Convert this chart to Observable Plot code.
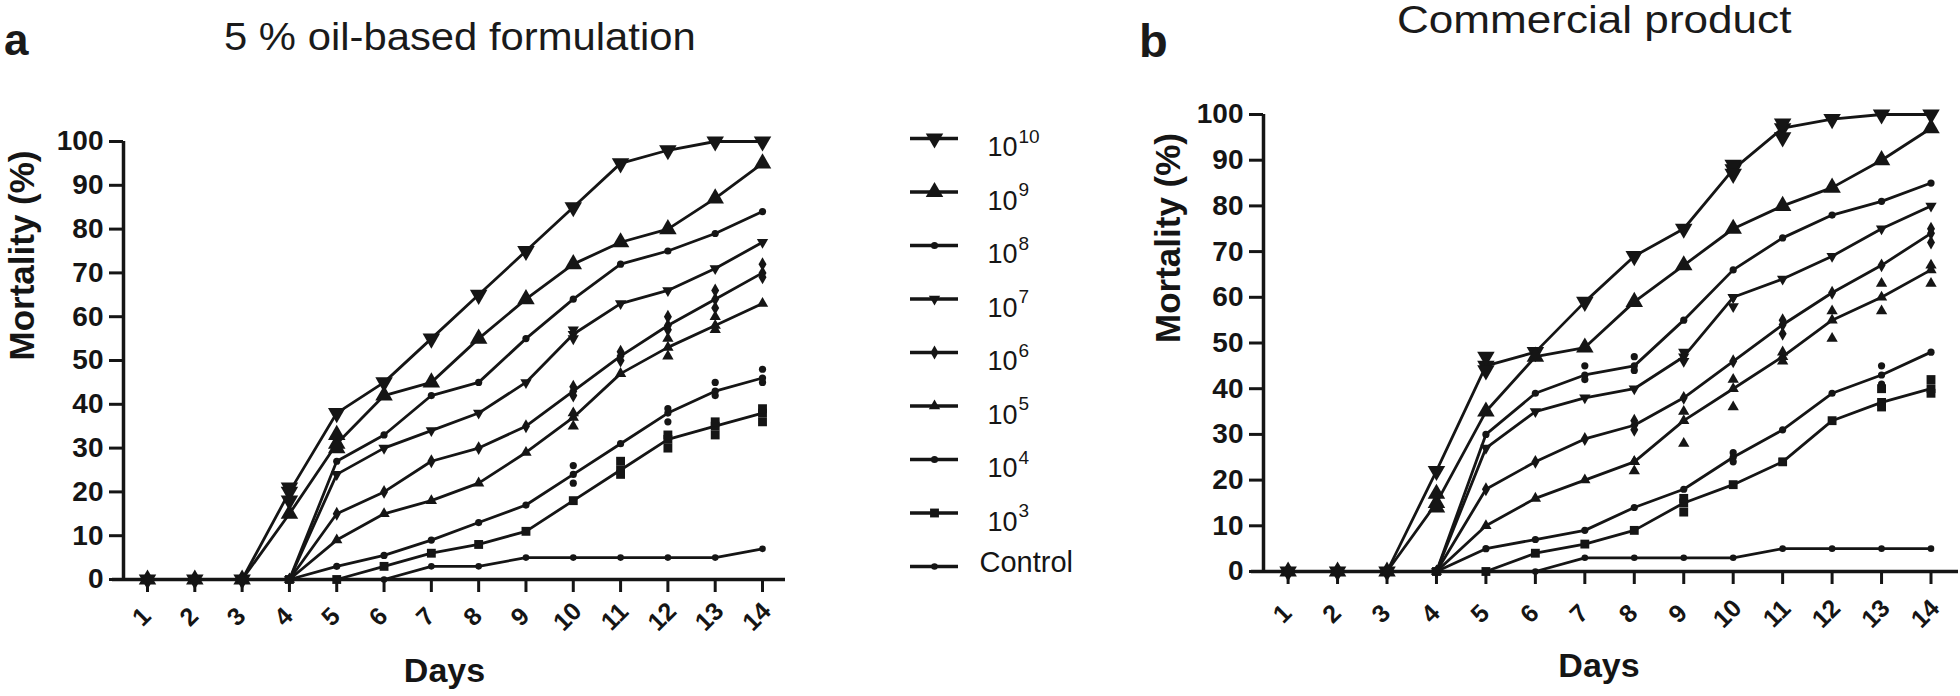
<!DOCTYPE html>
<html><head><meta charset="utf-8">
<script src="https://cdn.jsdelivr.net/npm/d3@7"></script>
<script src="https://cdn.jsdelivr.net/npm/@observablehq/plot@0.6"></script>
<style>
body{margin:0;background:#fff;width:1960px;height:696px;overflow:hidden;position:relative;font-family:"Liberation Sans",Arial,sans-serif;color:#1a1a1a}
.box{position:absolute;top:0}
.ttl{position:absolute;font-size:38px;line-height:38px;white-space:nowrap;transform-origin:0 0;font-weight:normal}
.pl{position:absolute;font-weight:bold;white-space:nowrap}
</style></head><body>
<div class="pl" style="left:4px;top:17.8px;font-size:44px;line-height:44px">a</div>
<div class="pl" style="left:1139px;top:17.2px;font-size:47px;line-height:47px">b</div>
<div class="ttl" id="t1" style="left:224px;top:17.8px;transform:scaleX(1.10)"></div>
<div class="ttl" id="t2" style="left:1397px;top:0.8px;transform:scaleX(1.16)"></div>
<div class="box" id="pa" style="left:0;width:800px"></div>
<div class="box" id="leg" style="left:880px;width:240px"></div>
<div class="box" id="pb" style="left:1100px;width:860px"></div>
<script>
// ---------- data ----------
const days = [1,2,3,4,5,6,7,8,9,10,11,12,13,14];
const yTicks = [0,10,20,30,40,50,60,70,80,90,100];
const seriesNames = ["1e10","1e9","1e8","1e7","1e6","1e5","1e4","1e3","Control"];
const legendBase = ["10","10","10","10","10","10","10","10","Control"];
const legendExp  = ["10","9","8","7","6","5","4","3",""];
const titleA = "5 % oil-based formulation";
const titleB = "Commercial product";
const yLabel = "Mortality (%)";
const xLabel = "Days";

// panel a: 5 % oil-based formulation (mean per day)
const oil_e10 = [0,0,0,20,38,45,55,65,75,85,95,98,100,100];
const oil_e9  = [0,0,0,15,31,42,45,55,64,72,77,80,87,95];
const oil_e8  = [0,0,0,0,27,33,42,45,55,64,72,75,79,84];
const oil_e7  = [0,0,0,0,24,30,34,38,45,56,63,66,71,77];
const oil_e6  = [0,0,0,0,15,20,27,30,35,43,51,58,64,70];
const oil_e5  = [0,0,0,0,9,15,18,22,29,37,47,53,58,63];
const oil_e4  = [0,0,0,0,3,5.5,9,13,17,24,31,38,43,46];
const oil_e3  = [0,0,0,0,0,3,6,8,11,18,25,32,35,38];
const oil_ctl = [0,0,0,0,0,0,3,3,5,5,5,5,5,7];
// panel a: replicate points [series index, day, value]
const oilReplicates = [
  [0,4,21],[0,4,18],[1,5,33],[1,5,30],[3,10,57],[3,10,55],
  [4,10,44],[4,10,42],[4,11,52],[4,11,50],[4,12,60],[4,12,57],[4,13,66],[4,13,62],[4,14,72],[4,14,69],
  [5,10,38],[5,10,35],[5,12,55],[5,12,51],[5,13,60],[5,13,57],
  [6,10,26],[6,10,22],[6,12,39],[6,12,36],[6,13,45],[6,13,42],[6,14,48],[6,14,45],
  [7,11,27],[7,11,24],[7,12,33],[7,12,30],[7,13,36],[7,13,33],[7,14,39],[7,14,36]
];

// panel b: commercial product (mean per day)
const com_e10 = [0,0,0,22,45,48,59,69,75,88,97,99,100,100];
const com_e9  = [0,0,0,15,35,47,49,59,67,75,80,84,90,97];
const com_e8  = [0,0,0,0,30,39,43,45,55,66,73,78,81,85];
const com_e7  = [0,0,0,0,27,35,38,40,47,60,64,69,75,80];
const com_e6  = [0,0,0,0,18,24,29,32,38,46,54,61,67,74];
const com_e5  = [0,0,0,0,10,16,20,24,33,40,47,55,60,66];
const com_e4  = [0,0,0,0,5,7,9,14,18,25,31,39,43,48];
const com_e3  = [0,0,0,0,0,4,6,9,15,19,24,33,37,40];
const com_ctl = [0,0,0,0,0,0,3,3,3,3,5,5,5,5];
// panel b: replicate points [series index, day, value]
const comReplicates = [
  [0,5,47],[0,5,44],[0,10,89],[0,10,87],[0,11,98],[0,11,95],[1,4,17],[1,4,14],
  [2,7,45],[2,7,42],[2,8,47],[2,8,44],[3,9,48],[3,9,46],[3,10,60],[3,10,58],
  [4,8,33],[4,8,31],[4,11,55],[4,11,52],[4,14,75],[4,14,72],
  [5,8,24],[5,8,22],[5,9,35],[5,9,28],[5,10,42],[5,10,36],[5,11,48],[5,11,46],[5,12,57],[5,12,51],[5,13,63],[5,13,57],[5,14,67],[5,14,63],
  [6,10,26],[6,10,24],[6,13,45],[6,13,41],
  [7,9,16],[7,9,13],[7,13,40],[7,13,36],[7,14,42],[7,14,39]
];

// ---------- build ----------
const ink = "#151515";
const oilSeries = [oil_e10,oil_e9,oil_e8,oil_e7,oil_e6,oil_e5,oil_e4,oil_e3,oil_ctl];
const comSeries = [com_e10,com_e9,com_e8,com_e7,com_e6,com_e5,com_e4,com_e3,com_ctl];
function toRows(arr){
  return arr.flatMap((vals, s) => vals.map((v, k) => ({series: seriesNames[s], idx: s, day: days[k], value: v})));
}
function repRows(reps){
  return reps.map(([s, day, value]) => ({series: seriesNames[s], idx: s, day, value}));
}
const sqrt3 = Math.sqrt(3);
const triangleDown = {draw(ctx, size){
  const y = -Math.sqrt(size / (sqrt3 * 3));
  ctx.moveTo(0, -y * 2); ctx.lineTo(-sqrt3 * y, y); ctx.lineTo(sqrt3 * y, y); ctx.closePath();
}};
const markerStyle = [
  {symbol: triangleDown, r: 6.5},
  {symbol: "triangle", r: 6.5},
  {symbol: "circle", r: 3.6},
  {symbol: triangleDown, r: 4.2},
  {symbol: "diamond", r: 4.2},
  {symbol: "triangle", r: 4.2},
  {symbol: "circle", r: 3.6},
  {symbol: "square", r: 5},
  {symbol: "circle", r: 3.3}
];
const fontFamily = "'Liberation Sans', Arial, sans-serif";

function panel(data, reps, c){
  const pts = data.concat(reps);
  return Plot.plot({
    width: c.width, height: 696,
    marginLeft: c.ml, marginRight: c.mr, marginTop: c.mt, marginBottom: c.mb,
    x: {domain: c.xDomain},
    y: {domain: [0, 100]},
    style: {fontFamily, color: ink, background: "transparent", overflow: "visible"},
    marks: [
      Plot.ruleY([0], {x1: c.baseStart, x2: c.xDomain[1], stroke: ink, strokeWidth: 3.5}),
      Plot.ruleX([c.xDomain[0]], {y1: 0, y2: 100, stroke: ink, strokeWidth: 3.5}),
      Plot.axisY({ticks: yTicks, tickSize: 14, tickPadding: 6, strokeWidth: 3, fontSize: c.yFont, fontWeight: "bold", label: null}),
      Plot.axisX({ticks: days, tickSize: 13, strokeWidth: 3, fill: "none", label: null}),
      Plot.text(days, {x: d => d, text: d => String(d), frameAnchor: "bottom", dy: c.tickDy, rotate: -45, fontSize: 25, fontWeight: "bold", fill: ink}),
      Plot.text([yLabel], {text: d => d, frameAnchor: "left", dx: c.yLabDx, rotate: -90, fontSize: 35, fontWeight: "bold", fill: ink}),
      Plot.text([xLabel], {text: d => d, frameAnchor: "bottom", dx: c.xLabDx, dy: c.xLabDy, fontSize: 34, fontWeight: "bold", fill: ink}),
      Plot.line(data, {x: "day", y: "value", z: "series", stroke: ink, strokeWidth: 2.8}),
      ...markerStyle.map((m, s) => Plot.dot(pts.filter(d => d.idx === s), {x: "day", y: "value", symbol: m.symbol, r: m.r, fill: ink, stroke: "none"}))
    ]
  });
}

document.getElementById("t1").textContent = titleA;
document.getElementById("t2").textContent = titleB;

document.getElementById("pa").append(panel(toRows(oilSeries), repRows(oilReplicates), {
  width: 800, ml: 123, mr: 15, mt: 141, mb: 117,
  xDomain: [0.4926, 14.486], baseStart: 0.26,
  yFont: 28, tickDy: 43, yLabDx: -101, xLabDx: -10, xLabDy: 102
}));

document.getElementById("pb").append(panel(toRows(comSeries), repRows(comReplicates), {
  width: 860, ml: 163, mr: 2, mt: 114, mb: 125,
  xDomain: [0.5025, 14.556], baseStart: 0.26,
  yFont: 28, tickDy: 48, yLabDx: -95, xLabDx: -12, xLabDy: 105
}));

const idx = seriesNames.map((_, i) => i);
const idxExp = idx.filter(i => legendExp[i] !== "");
const idxPlain = idx.filter(i => legendExp[i] === "");
document.getElementById("leg").append(Plot.plot({
  width: 240, height: 696,
  marginLeft: 30, marginRight: 162, marginTop: 138, marginBottom: 130,
  x: {domain: [0, 1], axis: null},
  y: {domain: [0, 8], reverse: true, axis: null},
  style: {fontFamily, color: ink, background: "transparent", overflow: "visible"},
  marks: [
    Plot.ruleY(idx, {y: d => d, x1: 0, x2: 1, stroke: ink, strokeWidth: 3.5}),
    ...markerStyle.map((m, s) => Plot.dot([s], {x: () => 0.5, y: d => d, symbol: m.symbol, r: m.r, fill: ink, stroke: "none"})),
    Plot.text(idxExp, {x: () => 1, y: d => d, text: d => legendBase[d], dx: 29, dy: 9, textAnchor: "start", fontSize: 27, fill: ink}),
    Plot.text(idxExp, {x: () => 1, y: d => d, text: d => legendExp[d], dx: 60, dy: -2, textAnchor: "start", fontSize: 19, fill: ink}),
    Plot.text(idxPlain, {x: () => 1, y: d => d, text: d => legendBase[d], dx: 21, dy: -4, textAnchor: "start", fontSize: 29, fill: ink})
  ]
}));
</script>
</body></html>
